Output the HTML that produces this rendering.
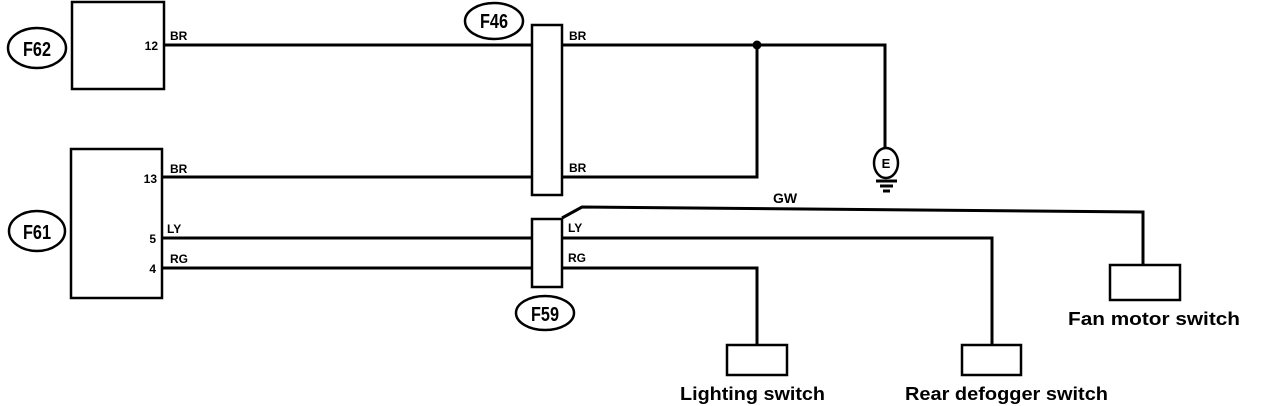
<!DOCTYPE html>
<html><head><meta charset="utf-8"><style>
html,body{margin:0;padding:0;background:#fff;}
svg{display:block}
text{font-family:"Liberation Sans",sans-serif;font-weight:bold;fill:#000}
</style></head><body>
<svg width="1264" height="406" viewBox="0 0 1264 406" xmlns="http://www.w3.org/2000/svg">
<g fill="none" stroke="#000" stroke-width="2.5">
<rect x="72" y="2" width="92" height="87"/>
<rect x="71" y="149" width="91" height="149"/>
<rect x="532" y="25" width="30" height="170"/>
<rect x="532" y="219" width="30" height="68"/>
<ellipse cx="37" cy="48" rx="29" ry="20"/>
<ellipse cx="37" cy="231" rx="28" ry="20"/>
<ellipse cx="494" cy="21" rx="29" ry="18"/>
<ellipse cx="545" cy="313" rx="29" ry="17"/>
<rect x="1110" y="265" width="70" height="35"/>
<rect x="962" y="345" width="59" height="30"/>
<rect x="727" y="345" width="60" height="30"/>
<ellipse cx="886" cy="163" rx="12" ry="15"/>
</g>
<g fill="none" stroke="#000" stroke-width="3">
<line x1="164" y1="45" x2="532" y2="45"/>
<line x1="162" y1="177" x2="532" y2="177"/>
<line x1="162" y1="238" x2="532" y2="238"/>
<line x1="162" y1="268" x2="532" y2="268"/>
<polyline points="562,45 885,45 885,148"/>
<polyline points="562,177 757,177 757,45"/>
<polyline points="562,218 582,207 1143,212 1143,265"/>
<polyline points="562,238 992,238 992,345"/>
<polyline points="562,268 757,268 757,345"/>
<line x1="876" y1="181" x2="897" y2="181"/>
<line x1="880" y1="186" x2="893" y2="186"/>
<line x1="883" y1="191" x2="890" y2="191"/>
</g>
<circle cx="757" cy="45" r="4.5" fill="#000"/>
<g font-size="20">
<text x="23" y="56" textLength="28" lengthAdjust="spacingAndGlyphs">F62</text>
<text x="23" y="239" textLength="28" lengthAdjust="spacingAndGlyphs">F61</text>
<text x="480" y="28" textLength="28" lengthAdjust="spacingAndGlyphs">F46</text>
<text x="531" y="321" textLength="28" lengthAdjust="spacingAndGlyphs">F59</text>
</g>
<text x="886" y="168" font-size="13" text-anchor="middle">E</text>
<g font-size="12">
<text x="170" y="40">BR</text>
<text x="170" y="173">BR</text>
<text x="167" y="233">LY</text>
<text x="170" y="263">RG</text>
<text x="569" y="40">BR</text>
<text x="569" y="172">BR</text>
<text x="568" y="232">LY</text>
<text x="568" y="262">RG</text>
<text x="158" y="50" text-anchor="end">12</text>
<text x="157" y="183" text-anchor="end">13</text>
<text x="156" y="243" text-anchor="end">5</text>
<text x="156" y="273" text-anchor="end">4</text>
<text x="773" y="203" font-size="14">GW</text>
</g>
<g font-size="18">
<text x="1068" y="325" textLength="172" lengthAdjust="spacingAndGlyphs">Fan motor switch</text>
<text x="680" y="400" textLength="145" lengthAdjust="spacingAndGlyphs">Lighting switch</text>
<text x="905" y="400" textLength="203" lengthAdjust="spacingAndGlyphs">Rear defogger switch</text>
</g>
</svg>
</body></html>
